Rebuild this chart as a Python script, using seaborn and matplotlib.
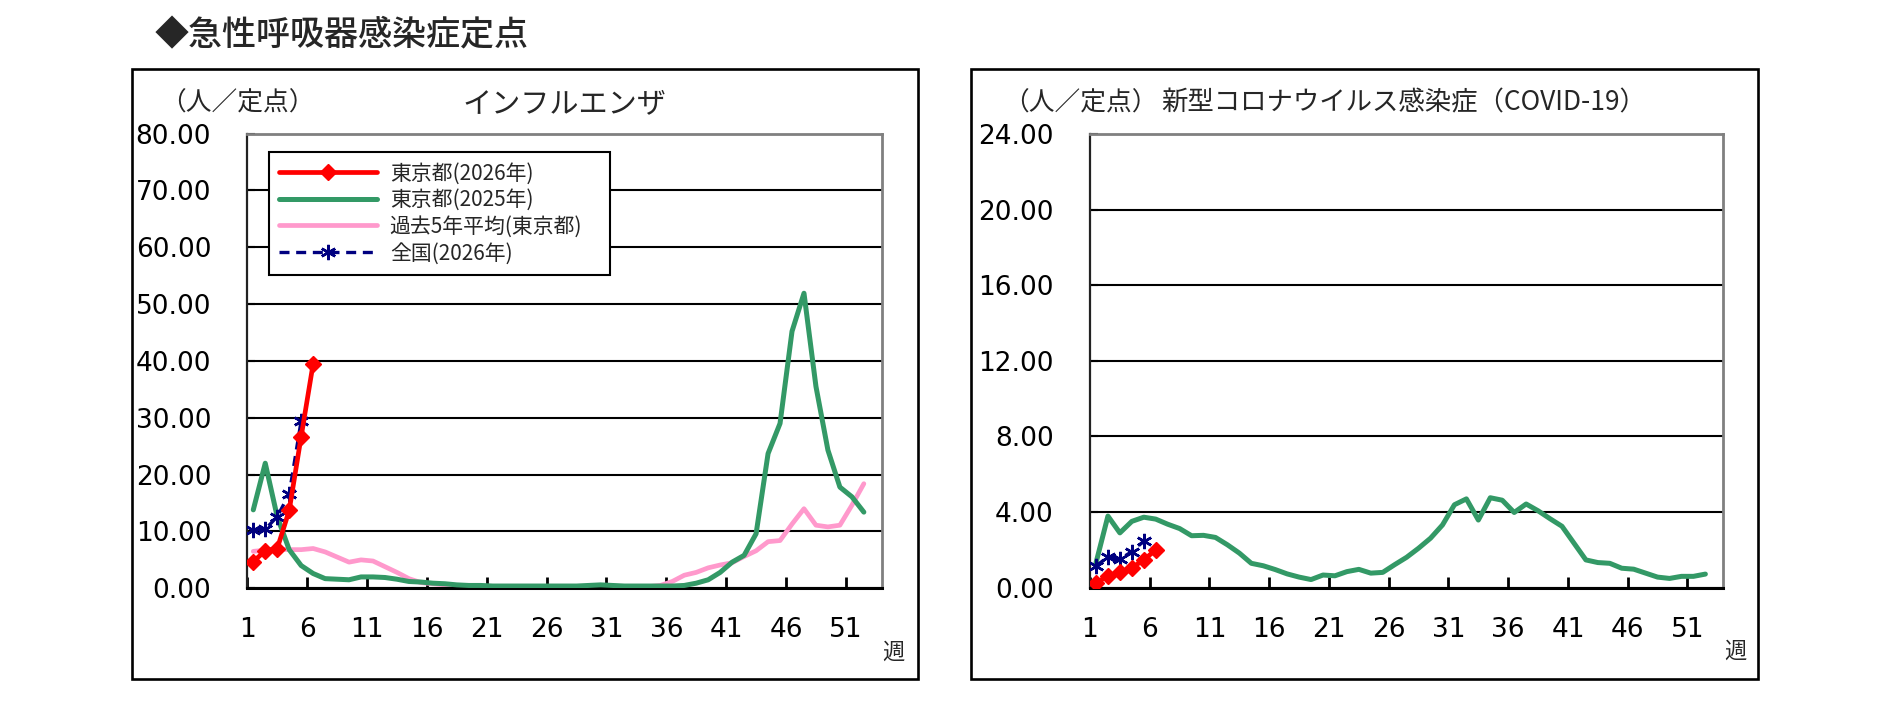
import numpy as np
import pandas as pd
import matplotlib
matplotlib.use("Agg")
import matplotlib.pyplot as plt
import seaborn as sns
from matplotlib.patches import Rectangle
from matplotlib.font_manager import FontProperties

# ---------------- data ----------------
weeks = list(range(1, 53))
week_tick_labels = [1, 6, 11, 16, 21, 26, 31, 36, 41, 46, 51]

flu_yticks = [0, 10, 20, 30, 40, 50, 60, 70, 80]
covid_yticks = [0, 4, 8, 12, 16, 20, 24]

series_labels = ["東京都(2026年)", "東京都(2025年)", "過去5年平均(東京都)", "全国(2026年)"]

flu_tokyo_2026 = [4.7, 6.6, 7.0, 13.7, 26.7, 39.5]
flu_national_2026 = [10.3, 10.4, 12.6, 16.6, 29.5]
flu_tokyo_2025 = [13.8, 22.0, 12.6, 6.8, 4.0, 2.6, 1.7, 1.6, 1.5, 2.0,
                  2.0, 1.9, 1.6, 1.2, 1.1, 0.9, 0.8, 0.6, 0.5, 0.5,
                  0.4, 0.4, 0.4, 0.4, 0.4, 0.4, 0.4, 0.4, 0.5, 0.6,
                  0.5, 0.4, 0.4, 0.4, 0.4, 0.4, 0.5, 0.9, 1.5, 2.8,
                  4.6, 5.8, 9.6, 23.7, 29.0, 45.2, 51.9, 35.5, 24.3, 17.8,
                  16.1, 13.4]
flu_past5 = [6.5, 6.7, 6.9, 6.8, 6.8, 7.0, 6.4, 5.5, 4.6, 5.0,
             4.8, 3.8, 2.8, 1.7, 1.0, 0.8, 0.6, 0.4, 0.3, 0.3,
             0.2, 0.2, 0.2, 0.2, 0.2, 0.2, 0.2, 0.2, 0.2, 0.2,
             0.3, 0.3, 0.3, 0.3, 0.5, 1.2, 2.3, 2.8, 3.6, 4.1,
             4.5, 5.6, 6.6, 8.2, 8.4, 11.3, 14.0, 11.1, 10.8, 11.1,
             14.6, 18.4]

covid_tokyo_2026 = [0.25, 0.6, 0.8, 1.05, 1.45, 2.0]
covid_national_2026 = [1.15, 1.6, 1.5, 1.9, 2.45]
covid_tokyo_2025 = [1.3, 3.78, 2.89, 3.5, 3.72, 3.62, 3.35, 3.12, 2.74, 2.76,
                    2.65, 2.26, 1.82, 1.28, 1.15, 0.95, 0.72, 0.55, 0.42, 0.66,
                    0.62, 0.84, 0.96, 0.76, 0.8, 1.21, 1.6, 2.08, 2.61, 3.31,
                    4.38, 4.69, 3.57, 4.75, 4.62, 3.97, 4.42, 4.06, 3.64, 3.24,
                    2.35, 1.46, 1.32, 1.28, 1.02, 0.97, 0.76, 0.55, 0.48, 0.59,
                    0.59, 0.71]

# ---------------- style ----------------
sns.set_style("white")
plt.rcParams['font.family'] = ['DejaVu Sans', 'Noto Sans CJK JP']
CJK = ['Noto Sans CJK JP', 'DejaVu Sans']

RED = '#FF0000'
GREEN = '#339966'
PINK = '#FF99CC'
NAVY = '#000080'

W, H = 1892, 702
fig = plt.figure(figsize=(W / 100, H / 100), dpi=100)


def fx(px):
    return px / W


def fy(py):
    return 1 - py / H


# panel frames
for (x0, y0, x1, y1) in [(132, 69, 918, 679), (971, 69, 1758, 679)]:
    fig.add_artist(Rectangle((fx(x0), fy(y1)), fx(x1) - fx(x0), fy(y0) - fy(y1),
                             transform=fig.transFigure, fill=False,
                             edgecolor='black', linewidth=1.9))

fig.text(fx(155), fy(36), "◆急性呼吸器感染症定点", family=CJK, fontsize=24.5,
         ha='left', va='center', weight='medium')

axL = fig.add_axes([fx(247.3), fy(588.3), fx(881.8) - fx(247.3), fy(133.5) - fy(588.3)])
axR = fig.add_axes([fx(1090), fy(587.5), fx(1723.3) - fx(1090), fy(134) - fy(587.5)])


def draw(ax, tokyo26, national26, tokyo25, past5, yticks):
    if past5 is not None:
        sns.lineplot(x=weeks[:len(past5)], y=past5, ax=ax, color=PINK, linewidth=3.4,
                     label=series_labels[2], zorder=2)
    sns.lineplot(x=weeks[:len(tokyo25)], y=tokyo25, ax=ax, color=GREEN, linewidth=3.6,
                 label=series_labels[1], zorder=3)
    sns.lineplot(x=weeks[:len(national26)], y=national26, ax=ax, color=NAVY, linewidth=2.4,
                 linestyle=(0, (3, 2)), marker=(6, 2, 0), markersize=11,
                 markeredgewidth=1.8, markeredgecolor=NAVY,
                 label=series_labels[3], zorder=4)
    sns.lineplot(x=weeks[:len(tokyo26)], y=tokyo26, ax=ax, color=RED, linewidth=3.4,
                 marker='D', markersize=8, markeredgewidth=1, markeredgecolor=RED,
                 label=series_labels[0], zorder=5)
    ax.set_xlim(0.5, 53.5)
    ax.set_ylim(yticks[0], yticks[-1])
    ax.set_xticks([w - 0.5 for w in week_tick_labels])
    ax.set_xticklabels([str(w) for w in week_tick_labels])
    ax.set_yticks(yticks)
    ax.set_yticklabels([f"{v:.2f}" for v in yticks])
    ax.tick_params(axis='x', direction='in', length=8, width=2, pad=21,
                   labelsize=19, colors='black', bottom=True)
    ax.tick_params(axis='y', direction='in', length=6, width=1.5, pad=26,
                   labelsize=19, colors='black', left=True)
    ax.grid(axis='y', color='black', linewidth=1.5)
    ax.grid(axis='x', visible=False)
    ax.set_axisbelow(True)
    ax.set_xlabel('')
    ax.set_ylabel('')
    for s in ['top', 'right']:
        ax.spines[s].set_color('#808080')
        ax.spines[s].set_linewidth(2)
    ax.spines['left'].set_color('#222222')
    ax.spines['left'].set_linewidth(1.6)
    ax.spines['bottom'].set_color('black')
    ax.spines['bottom'].set_linewidth(2.2)
    ax.set_facecolor('white')
    ax.text(1.019, -0.14, "週", transform=ax.transAxes, family=CJK, fontsize=16,
            ha='center', va='center')
    ax.text(-0.1376, 1.067, "（人／定点）", transform=ax.transAxes, family=CJK,
            fontsize=18.5, ha='left', va='center')


draw(axL, flu_tokyo_2026, flu_national_2026, flu_tokyo_2025, flu_past5, flu_yticks)
draw(axR, covid_tokyo_2026, covid_national_2026, covid_tokyo_2025, None, covid_yticks)

axL.text(0.5, 1.065, "インフルエンザ", transform=axL.transAxes, family=CJK,
         fontsize=21, ha='center', va='center')
axR.text(0.113, 1.068, "新型コロナウイルス感染症（COVID-19）", transform=axR.transAxes,
         family=CJK, fontsize=19, ha='left', va='center')

# legend (left panel only)
handles, labels = axL.get_legend_handles_labels()
lookup = dict(zip(labels, handles))
leg = axL.legend([lookup[l] for l in series_labels], series_labels,
                 loc='upper left', bbox_to_anchor=(0.034, 0.959, 0.537, 0.0),
                 mode='expand', borderaxespad=0, frameon=True, fancybox=False,
                 edgecolor='black', framealpha=1, facecolor='white',
                 prop=FontProperties(family=CJK, size=15), handlelength=4.7,
                 handletextpad=0.6, labelspacing=0.22, borderpad=0.5)
leg.get_frame().set_linewidth(1.5)
leg.set_zorder(10)
if axR.get_legend() is not None:
    axR.get_legend().remove()

fig.savefig("out.png", dpi=100, facecolor='white')
